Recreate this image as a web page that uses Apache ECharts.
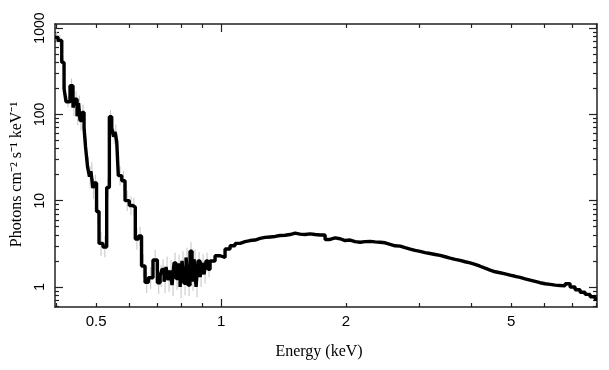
<!DOCTYPE html>
<html><head><meta charset="utf-8">
<script src="https://cdn.jsdelivr.net/npm/echarts@6/dist/echarts.min.js"></script>
<style>html,body{margin:0;padding:0;background:#fff}#c{width:609px;height:370px}</style>
</head><body><div id="c"></div>
<script>
// Bin edges (keV)
const binEdges = [
  0.398, 0.4048, 0.4132, 0.4185, 0.4231, 0.4326, 0.4398, 0.4446, 0.4498, 0.4536,
  0.4572, 0.4624, 0.4676, 0.4715, 0.4766, 0.4819, 0.4857, 0.4911, 0.4944, 0.5012,
  0.5081, 0.5195, 0.5302, 0.5381, 0.5452, 0.5507, 0.5550, 0.5606, 0.5655, 0.5764,
  0.5870, 0.6011, 0.6124, 0.6214, 0.6327, 0.6433, 0.6560, 0.6681, 0.6854, 0.7023,
  0.7131, 0.7208, 0.7289, 0.7370, 0.7452, 0.7535, 0.7619, 0.7704, 0.7790, 0.7877,
  0.7966, 0.8054, 0.8143, 0.8235, 0.8326, 0.8419, 0.8513, 0.8608, 0.8704, 0.8801,
  0.8901, 0.9000, 0.9100, 0.9201, 0.9304, 0.9408, 0.9673, 0.9945, 1.0224, 1.0512,
  1.0808, 1.1112, 1.1425, 1.1746, 1.2077, 1.2416, 1.2766, 1.3125, 1.3494, 1.3874,
  1.4264, 1.4666, 1.5078, 1.5502, 1.5939, 1.6387, 1.6848, 1.7322, 1.7810, 1.8310,
  1.8826, 1.9355, 1.9900, 2.0460, 2.1036, 2.1627, 2.2236, 2.2861, 2.3504, 2.4166,
  2.4846, 2.5545, 2.6264, 2.7003, 2.7762, 2.8543, 2.9346, 3.0172, 3.1021, 3.1893,
  3.2791, 3.3713, 3.4662, 3.5637, 3.6640, 3.7671, 3.8731, 3.9811, 4.0931, 4.2082,
  4.3266, 4.4484, 4.5735, 4.7022, 4.8345, 4.9705, 5.1104, 5.2542, 5.4020, 5.5540,
  5.7102, 5.8709, 6.0361, 6.2059, 6.3805, 6.5600, 6.7446, 6.9344, 7.1295, 7.3301,
  7.5363, 7.7484, 7.9664, 8.05
];
// Flux per bin (photons cm^-2 s^-1 keV^-1)
const flux = [
  780, 720, 400, 200, 140, 215, 120, 150, 95, 135,
  85, 105, 70, 42, 25, 19, 22, 14, 16, 7.5,
  3.2, 2.9, 14.2, 94, 70, 55, 63, 48, 19.5, 17,
  10, 8.8, 8.4, 3.6, 3.9, 1.75, 1.13, 1.28, 2.05, 1.12,
  1.35, 1.6, 1.15, 1.7, 1.2, 1.55, 1.05, 1.9, 1.25, 1.8,
  1.0, 2.0, 1.1, 2.2, 1.05, 2.6, 1.2, 2.1, 1.0, 2.0,
  1.3, 1.9, 1.4, 2.0, 1.6,
  2.0, 2.3, 2.2, 2.75, 3.0, 3.2, 3.35, 3.45, 3.5, 3.65,
  3.75, 3.8, 3.85, 3.95, 3.98, 4.05, 4.2, 4.1, 4.05, 4.12,
  4.05, 4.0, 4.0, 3.55, 3.7, 3.62, 3.45, 3.5, 3.35, 3.3,
  3.35, 3.38, 3.33, 3.3, 3.25, 3.12, 3.0, 2.97, 2.85, 2.75,
  2.65, 2.58, 2.5, 2.44, 2.38, 2.32, 2.24, 2.16, 2.09, 2.03,
  1.96, 1.9, 1.83, 1.74, 1.65, 1.57, 1.5, 1.46, 1.42, 1.37,
  1.33, 1.29, 1.24, 1.2, 1.16, 1.12, 1.09, 1.07, 1.05, 1.04,
  1.03, 1.09, 1.0, 0.93, 0.87, 0.82, 0.77, 0.72
];
// 1-sigma error range for the low-energy bins
const errLow = [
  680, 620, 340, 165, 120, 175, 95, 120, 75, 110,
  65, 85, 55, 33, 19, 14, 17, 10.5, 12, 5.5,
  2.3, 2.2, 11, 80, 58, 45, 52, 38, 15, 13,
  7.6, 6.8, 6.5, 2.7, 3.0, 1.3, 0.85, 0.95, 1.55, 0.83,
  1.0, 1.2, 0.85, 1.3, 0.88, 1.15, 0.78, 1.45, 0.92, 1.35,
  0.74, 1.5, 0.8, 1.7, 0.78, 2.0, 0.9, 1.6, 0.76, 1.55,
  1.0, 1.5, 1.1, 1.6, 1.3
];
const errHigh = [
  900, 830, 470, 245, 165, 260, 150, 185, 120, 165,
  110, 130, 90, 53, 32, 25, 28, 18, 20, 10,
  4.3, 3.9, 18, 112, 84, 67, 76, 60, 25, 22,
  13, 11.2, 10.8, 4.8, 5.0, 2.4, 1.5, 1.7, 2.7, 1.5,
  1.8, 2.1, 1.55, 2.25, 1.6, 2.05, 1.42, 2.5, 1.65, 2.35,
  1.35, 2.6, 1.45, 2.85, 1.4, 3.3, 1.6, 2.7, 1.32, 2.55,
  1.7, 2.4, 1.8, 2.5, 2.0
];
const xLabelValues = [0.5, 1, 2, 5];
const xMinorTicks = [0.4, 0.5, 0.6, 0.7, 0.8, 0.9, 2, 3, 4, 5, 6, 7, 8];
const xMajorTicks = [1];
const yLabelValues = [1, 10, 100, 1000];
const yMinorTicks = [0.6, 0.7, 0.8, 0.9, 2, 3, 4, 5, 6, 7, 8, 9, 20, 30, 40, 50, 60, 70, 80, 90, 200, 300, 400, 500, 600, 700, 800, 900];
const yMajorTicks = [1, 10, 100, 1000];

const X_MIN = 0.398, X_MAX = 8.05, Y_MIN = 0.586, Y_MAX = 1115;

const stepData = binEdges.map((e, i) => [e, flux[Math.min(i, flux.length - 1)]]);
const errData = errLow.map((lo, i) => [Math.sqrt(binEdges[i] * binEdges[i + 1]), lo, errHigh[i]]);

const axisColor = '#222';
function xAx(pos, ticks, len, showLine, labels) {
  return {
    type: 'log', position: pos, min: X_MIN, max: X_MAX, logBase: 10,
    axisLine: { show: showLine, lineStyle: { color: axisColor, width: 1.5 } },
    axisTick: { show: true, inside: true, length: len, customValues: ticks, lineStyle: { color: axisColor, width: 1.2 } },
    axisLabel: labels ? {
      show: true, customValues: xLabelValues, margin: 7,
      fontFamily: 'Liberation Sans', fontSize: 15, color: '#000',
      formatter: v => String(+v.toPrecision(3))
    } : { show: false },
    splitLine: { show: false }, minorTick: { show: false }
  };
}
function yAx(pos, ticks, len, showLine, labels) {
  return {
    type: 'log', position: pos, min: Y_MIN, max: Y_MAX, logBase: 10,
    axisLine: { show: showLine, lineStyle: { color: axisColor, width: 1.5 } },
    axisTick: { show: true, inside: true, length: len, customValues: ticks, lineStyle: { color: axisColor, width: 1.2 } },
    axisLabel: labels ? {
      show: true, customValues: yLabelValues, rotate: 90, margin: 8,
      fontFamily: 'Liberation Sans', fontSize: 14, color: '#000',
      formatter: v => String(Math.round(v))
    } : { show: false },
    splitLine: { show: false }, minorTick: { show: false }
  };
}

const xAxes = [xAx('bottom', xMinorTicks, 4, true, true), xAx('bottom', xMajorTicks, 8, false, false),
               xAx('top', xMinorTicks, 4, true, false), xAx('top', xMajorTicks, 8, false, false)];
Object.assign(xAxes[0], {
  name: 'Energy (keV)', nameLocation: 'middle', nameGap: 37,
  nameTextStyle: { fontFamily: 'Liberation Serif', fontSize: 16, color: '#000', padding: [0, 14, 0, 0] }
});
const yAxes = [yAx('left', yMinorTicks, 4, true, true), yAx('left', yMajorTicks, 8, false, false),
               yAx('right', yMinorTicks, 4, true, false), yAx('right', yMajorTicks, 8, false, false)];
Object.assign(yAxes[0], {
  name: 'Photons cm\u207B\u00B2 s\u207B\u00B9 keV\u207B\u00B9', nameLocation: 'middle', nameGap: 30,
  nameTextStyle: { fontFamily: 'Liberation Serif', fontSize: 16, color: '#000', padding: [0, 18, 0, 0] }
});

const chart = echarts.init(document.getElementById('c'), null, { renderer: 'canvas' });
chart.setOption({
  animation: false,
  backgroundColor: '#fff',
  grid: { left: 55, right: 12, top: 24, bottom: 63 },
  xAxis: xAxes,
  yAxis: yAxes,
  series: [
    {
      type: 'custom', xAxisIndex: 0, yAxisIndex: 0, z: 1, clip: true,
      encode: { x: 0, y: [1, 2] },
      renderItem: (params, api) => {
        const p1 = api.coord([api.value(0), api.value(1)]);
        const p2 = api.coord([api.value(0), api.value(2)]);
        return { type: 'line', shape: { x1: p1[0], y1: p1[1], x2: p2[0], y2: p2[1] },
                 style: { stroke: '#c4c4c4', lineWidth: 1 } };
      },
      data: errData
    },
    {
      type: 'line', xAxisIndex: 0, yAxisIndex: 0, z: 3, step: 'end', showSymbol: false, symbol: 'none',
      clip: true, lineStyle: { color: '#000', width: 3.4 }, data: stepData
    }
  ]
});
</script>
</body></html>
